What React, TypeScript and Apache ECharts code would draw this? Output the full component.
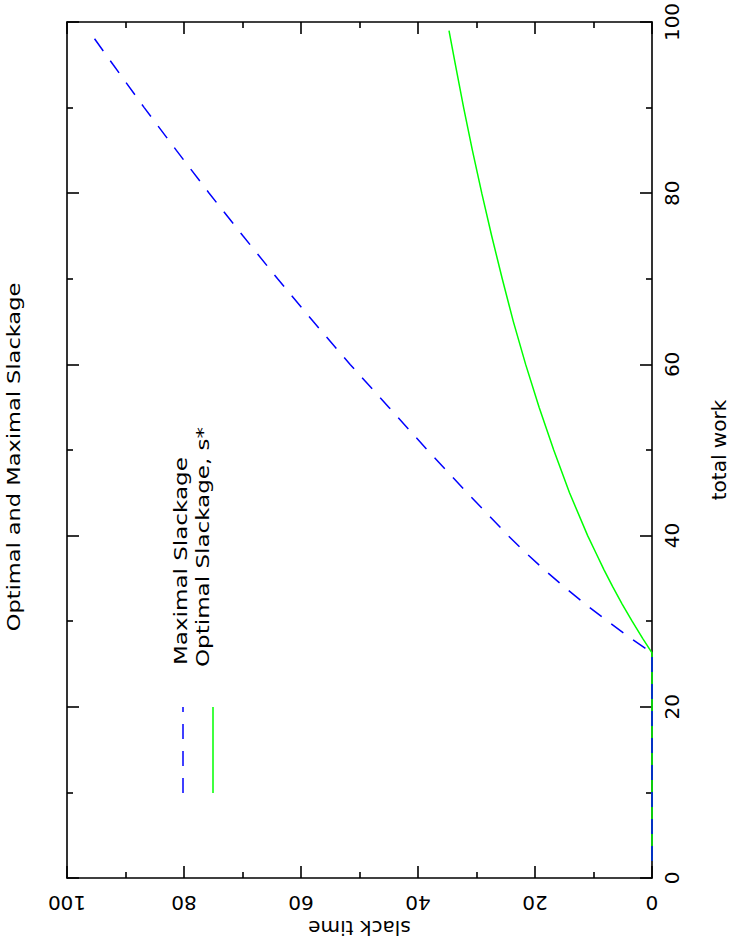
import React, { useEffect, useRef } from 'react';
import * as echarts from 'echarts';

// total work (vertical axis in the rotated picture)
const totalWork = [2, 26.3, 28, 30, 32, 34, 36, 38, 40, 45, 50, 55, 60, 65, 70, 75, 80, 85, 90, 95, 99];
// slack time values
const maximalSlack = [0, 0, 3.6, 7.6, 11.4, 15.0, 18.4, 21.6, 24.6, 31.6, 38.4, 45.0, 51.6, 57.9, 64.0, 69.9, 75.7, 81.3, 86.8, 92.1, 96.3];
const optimalSlack = [0, 0, 1.6, 3.4, 5.1, 6.7, 8.2, 9.6, 11.0, 14.1, 16.8, 19.3, 21.6, 23.7, 25.6, 27.4, 29.1, 30.7, 32.2, 33.6, 34.7];

const titleText = 'Optimal and Maximal Slackage';
const workAxisName = 'total work';
const slackAxisName = 'slack time';
const legendNames = ['Maximal Slackage', 'Optimal Slackage, s*'];

const FONT = '"DejaVu Sans", sans-serif';
const BLUE = '#0000ff';
const GREEN = '#00ff00';

export default function App() {
  const ref = useRef<HTMLDivElement>(null);

  useEffect(() => {
    if (!ref.current) return;
    const chart = echarts.init(ref.current, undefined, { renderer: 'svg' });

    const frameLine = { show: true, onZero: false, lineStyle: { color: '#000', width: 1.6 } };
    const majorTick = { show: true, inside: true, length: 12, lineStyle: { color: '#000', width: 1.6 } };
    const minorTick = { show: true, splitNumber: 2, length: 6, lineStyle: { color: '#000', width: 1.6 } };
    const common = {
      type: 'value',
      min: 0,
      max: 100,
      interval: 20,
      axisLine: frameLine,
      axisTick: majorTick,
      minorTick,
      splitLine: { show: false },
      minorSplitLine: { show: false },
    };

    const blueData = totalWork.map((w, i) => [maximalSlack[i], w]);
    const greenData = totalWork.map((w, i) => [optimalSlack[i], w]);

    chart.setOption({
      animation: false,
      backgroundColor: '#ffffff',
      grid: { left: 67, right: 79, top: 22, bottom: 71, containLabel: false, outerBoundsMode: 'none' },
      xAxis: [
        {
          ...common,
          position: 'bottom',
          inverse: true,
          axisLabel: { show: true, rotate: 180, margin: 15, color: '#000', fontSize: 20, fontFamily: FONT },
          name: slackAxisName,
          nameLocation: 'middle',
          nameGap: 36,
          nameRotate: 180,
          nameTextStyle: { color: '#000', fontSize: 20, fontFamily: FONT },
        },
        {
          ...common,
          position: 'top',
          inverse: true,
          axisLabel: { show: false },
        },
      ],
      yAxis: [
        {
          ...common,
          position: 'right',
          axisLabel: { show: true, rotate: 90, margin: 10, color: '#000', fontSize: 20, fontFamily: FONT },
          name: workAxisName,
          nameLocation: 'middle',
          nameGap: 57,
          nameRotate: 90,
          nameTextStyle: { color: '#000', fontSize: 20, fontFamily: FONT },
        },
        {
          ...common,
          position: 'left',
          axisLabel: { show: false },
        },
      ],
      series: [
        {
          name: legendNames[1],
          type: 'line',
          xAxisIndex: 0,
          yAxisIndex: 0,
          data: greenData,
          symbol: 'none',
          showSymbol: false,
          lineStyle: { color: GREEN, width: 1.5 },
          z: 2,
        },
        {
          name: legendNames[0],
          type: 'line',
          xAxisIndex: 0,
          yAxisIndex: 0,
          data: blueData,
          symbol: 'none',
          showSymbol: false,
          lineStyle: { color: BLUE, width: 1.5, type: [15, 12] },
          z: 3,
        },
      ],
      graphic: [
        {
          type: 'text',
          x: 14,
          y: 457,
          rotation: Math.PI / 2,
          scaleX: 1.25,
          style: {
            text: titleText,
            fill: '#000',
            font: `18px ${FONT}`,
            align: 'center',
            verticalAlign: 'middle',
            textAlign: 'center',
            textVerticalAlign: 'middle',
          },
        },
        {
          type: 'line',
          shape: { x1: 183, y1: 793, x2: 183, y2: 707 },
          style: { stroke: BLUE, lineWidth: 1.5, lineDash: [15, 12] },
        },
        {
          type: 'line',
          shape: { x1: 213, y1: 793, x2: 213, y2: 707 },
          style: { stroke: GREEN, lineWidth: 1.5 },
        },
        {
          type: 'text',
          x: 180.5,
          y: 665,
          rotation: Math.PI / 2,
          scaleX: 1.28,
          style: {
            text: legendNames[0],
            fill: '#000',
            font: `18px ${FONT}`,
            align: 'left',
            verticalAlign: 'middle',
            textAlign: 'left',
            textVerticalAlign: 'middle',
          },
        },
        {
          type: 'text',
          x: 203,
          y: 667,
          rotation: Math.PI / 2,
          scaleX: 1.28,
          style: {
            text: legendNames[1],
            fill: '#000',
            font: `18px ${FONT}`,
            align: 'left',
            verticalAlign: 'middle',
            textAlign: 'left',
            textVerticalAlign: 'middle',
          },
        },
      ],
    });

    return () => chart.dispose();
  }, []);

  return (
    <div
      ref={ref}
      style={{ position: 'absolute', left: 0, top: 0, width: 731, height: 949, background: '#fff' }}
    />
  );
}
